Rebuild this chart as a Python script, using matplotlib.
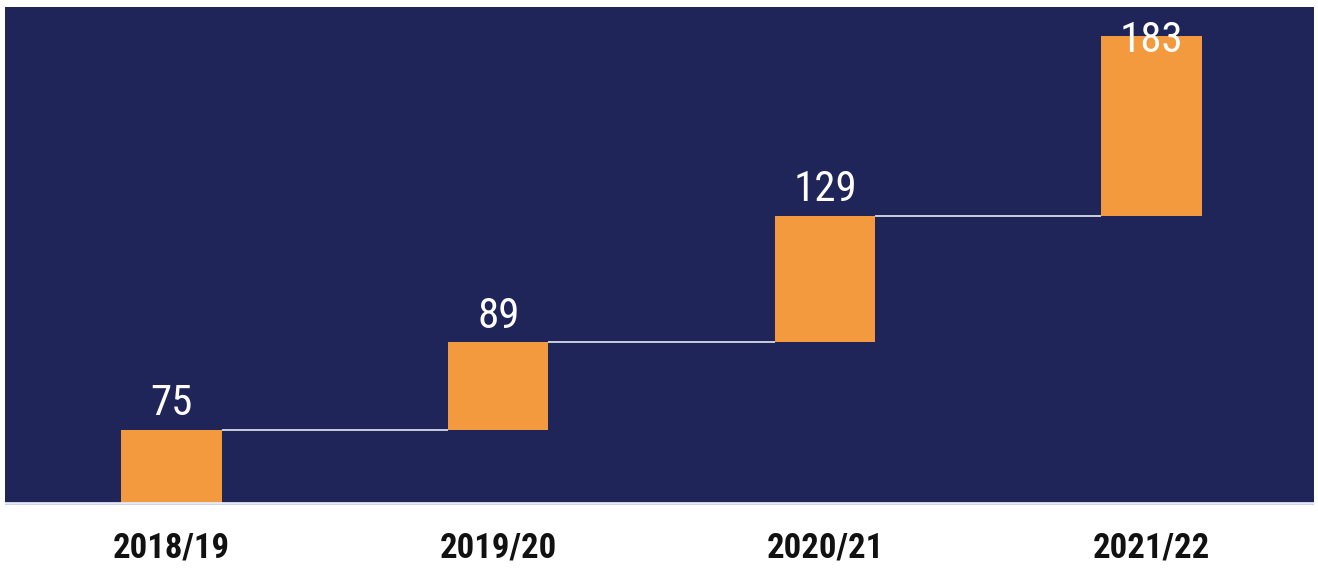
import matplotlib
matplotlib.use("Agg")
import matplotlib.pyplot as plt
from matplotlib import font_manager

years = ["2018/19", "2019/20", "2020/21", "2021/22"]
values = [75, 89, 129, 183]

NAVY = "#1f2459"
ORANGE = "#f39a3e"

# pick a narrow font if one is installed
fl = font_manager.fontManager.ttflist
names = {f.name for f in fl}
fam_name, stretch = "Roboto", "normal"
for cand in ["Liberation Sans Narrow", "Roboto Condensed", "Open Sans Condensed",
             "Noto Sans Condensed", "DejaVu Sans Condensed"]:
    if cand in names:
        fam_name = cand
        break
else:
    for f in fl:
        if "condensed" in str(f.stretch) and f.name in ("DejaVu Sans", "Noto Sans", "Open Sans", "Roboto"):
            fam_name, stretch = f.name, "condensed"
            break
if fam_name not in names:
    fam_name = "DejaVu Sans"
fam = [fam_name, "DejaVu Sans"]

fig = plt.figure(figsize=(13.18, 5.68), dpi=100, facecolor="white")
ax = fig.add_axes([5/1318, 63/568, 1309/1318, 498/568])
ax.set_facecolor(NAVY)

bottoms = []
acc = 0
for v in values:
    bottoms.append(acc)
    acc += v
tops = [b + v for b, v in zip(bottoms, values)]

x = list(range(len(values)))
width = 0.307
ax.bar(x, values, bottom=bottoms, width=width, color=ORANGE, edgecolor="none", zorder=3)

# connectors
for i in range(len(values) - 1):
    ax.plot([x[i] + width/2, x[i+1] - width/2], [tops[i], tops[i]],
            color="#c9cedb", lw=1.4, zorder=2, solid_capstyle="butt")

ymin, ymax = -2, 506
ax.set_ylim(ymin, ymax)
ax.set_xlim(-0.51, 3.497)

for xi, t, v in zip(x, tops, values):
    ly = min(t + 15, ymax - 46)
    ax.text(xi, ly, str(v), ha="center", va="baseline", color="white",
            fontsize=31, family=fam, fontstretch=stretch, zorder=4)

# baseline
ax.axhline(0, color="#e3ebf7", lw=2, zorder=4)

for s in ax.spines.values():
    s.set_visible(False)
ax.set_yticks([])
ax.set_xticks(x)
ax.set_xticklabels(years, fontsize=25, fontweight="bold", family=fam,
                   fontstretch=stretch, color="#111111")
ax.tick_params(axis="x", length=0, pad=19)

fig.savefig("out.png", dpi=100, facecolor="white")
